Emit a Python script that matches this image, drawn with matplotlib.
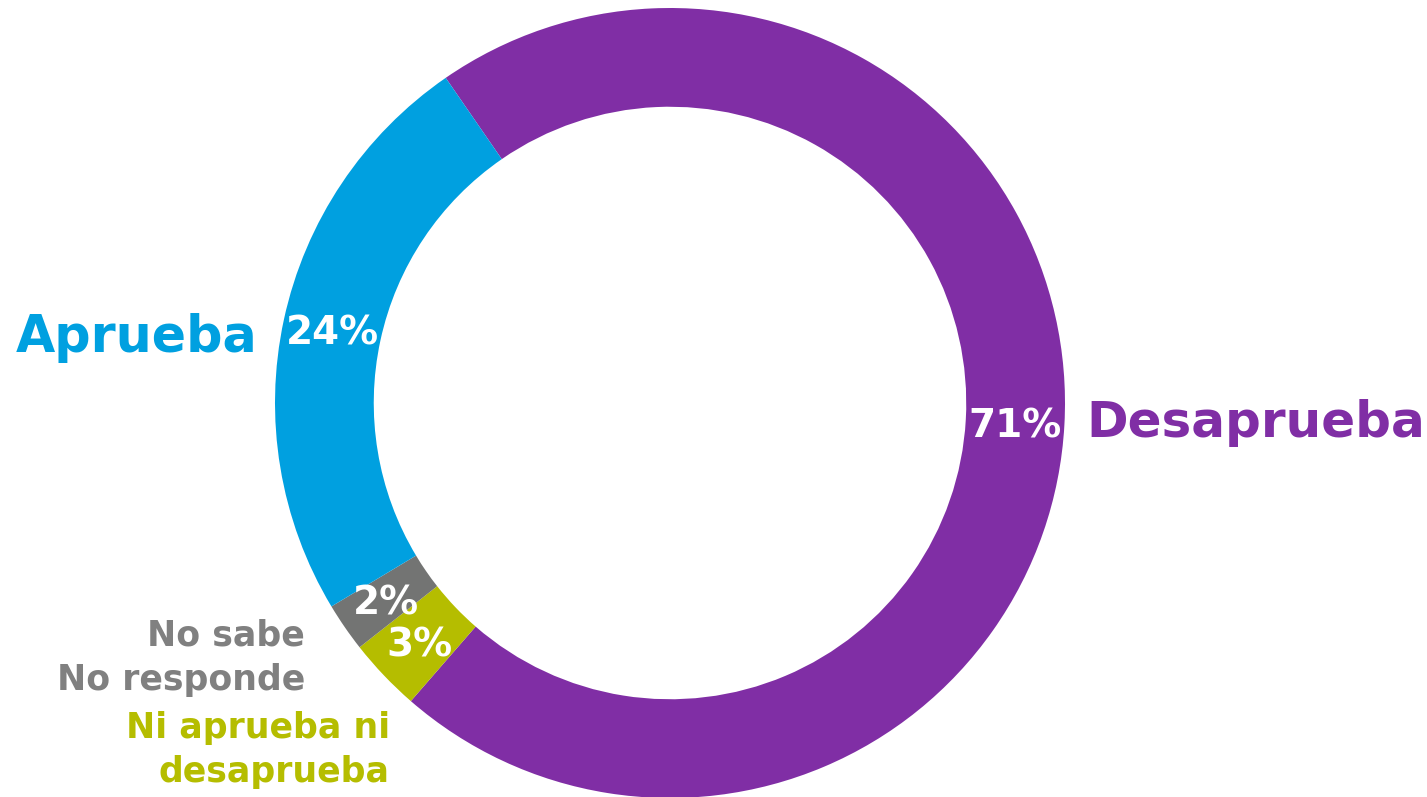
import matplotlib
matplotlib.use("Agg")
import matplotlib.pyplot as plt

# Data
categories = ["Desaprueba", "Ni aprueba ni\ndesaprueba", "No sabe\nNo responde", "Aprueba"]
values = [71, 3, 2, 24]
colors = ["#802EA5", "#B5BD00", "#737473", "#00A0E0"]
label_colors = ["#802EA5", "#B5BD00", "#808080", "#00A0E0"]

W, H = 1427, 797
fig = plt.figure(figsize=(W / 100, H / 100), dpi=100)
ax = fig.add_axes([0, 0, 1, 1])

cx, cy, R = 670, H - 403, 395
wedges, texts, autotexts = ax.pie(
    values, colors=colors, startangle=124.6, counterclock=False,
    center=(cx, cy), radius=R, autopct="%.0f%%", pctdistance=0.875,
    wedgeprops=dict(width=R * 0.25, linewidth=0),
    textprops=dict(color="white", fontsize=28, fontweight="bold", family="DejaVu Sans"),
)
for t in autotexts:
    t.set_va("center_baseline")

ax.set_xlim(0, W)
ax.set_ylim(0, H)
ax.set_aspect("auto")
ax.axis("off")

def yp(y):
    return H - y

# Category labels (positions in pixel coords)
ax.text(1086, yp(437), categories[0], color=label_colors[0], fontsize=36,
        fontweight="bold", ha="left", va="baseline")
ax.text(258, yp(352), categories[3], color=label_colors[3], fontsize=36.5,
        fontweight="bold", ha="right", va="baseline")
ax.text(305, yp(646), "No sabe", color=label_colors[2], fontsize=25,
        fontweight="bold", ha="right", va="baseline")
ax.text(305, yp(690), "No responde", color=label_colors[2], fontsize=25,
        fontweight="bold", ha="right", va="baseline")
ax.text(390, yp(738), "Ni aprueba ni", color=label_colors[1], fontsize=25,
        fontweight="bold", ha="right", va="baseline")
ax.text(390, yp(782), "desaprueba", color=label_colors[1], fontsize=25,
        fontweight="bold", ha="right", va="baseline")

fig.savefig("out.png", dpi=100, facecolor="white")
